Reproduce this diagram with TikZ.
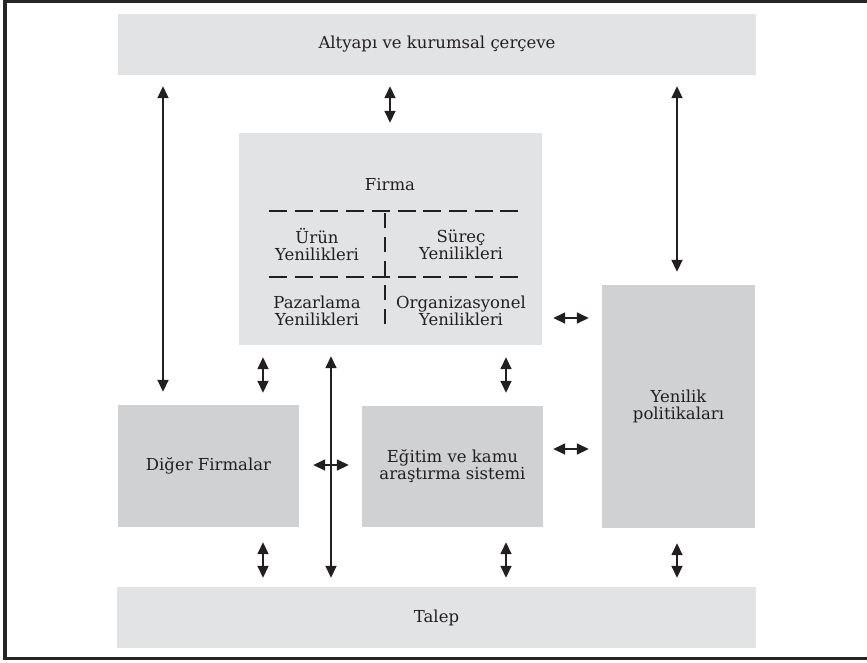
\documentclass[tikz,border=0pt]{standalone}
\usepackage{fontspec}
\setmainfont{DejaVu Serif}
\usetikzlibrary{arrows.meta}
\definecolor{lightbox}{HTML}{E2E3E5}
\definecolor{darkbox}{HTML}{D0D1D3}
\definecolor{ink}{HTML}{231F20}
\tikzset{
  boxlight/.style={fill=lightbox, draw=none, inner sep=0pt, rectangle},
  boxdark/.style={fill=darkbox, draw=none, inner sep=0pt, rectangle},
  lbl/.style={text=ink, align=center, inner sep=0pt, font=\fontsize{16.5}{17}\selectfont},
  dbl/.style={{Triangle[width=11pt,length=12pt]}-{Triangle[width=11pt,length=12pt]}, line width=1.6pt, draw=ink},
  divline/.style={draw=ink, line width=1.2pt},
}
\begin{document}
\begin{tikzpicture}[x=1pt,y=-1pt]
\useasboundingbox (0,0) rectangle (867,662);
% outer frame
\draw[line width=3.5pt, draw=black!85] (5,0.8) rectangle (880,658.5);

% boxes
\node[boxlight, minimum width=638pt, minimum height=61pt] (alt) at (437,44.5) {};
\node[boxlight, minimum width=639pt, minimum height=61pt] (talep) at (436.5,617.5) {};
\node[boxlight, minimum width=303pt, minimum height=212pt] (firma) at (390.5,239) {};
\node[boxdark, minimum width=181pt, minimum height=122pt] (diger) at (208.5,466) {};
\node[boxdark, minimum width=181pt, minimum height=121pt] (egitim) at (452.5,466.5) {};
\node[boxdark, minimum width=153pt, minimum height=243pt] (yenilik) at (678.5,406.5) {};

% texts
\node[lbl] (altT) at (alt) {Altyapı ve kurumsal çerçeve};
\node[lbl] (talepT) at (talep) {Talep};
\node[lbl] (firmaT) at (390,185) {Firma};
\node[lbl] (urun) at (317,245) {Ürün\\Yenilikleri};
\node[lbl] (surec) at (461,245) {Süreç\\Yenilikleri};
\node[lbl] (paz) at (317,311) {Pazarlama\\Yenilikleri};
\node[lbl] (org) at (461,311) {Organizasyonel\\Yenilikleri};
\node[lbl] (digerT) at (diger) {Diğer Firmalar};
\node[lbl] (egitimT) at (egitim) {Eğitim ve kamu\\araştırma sistemi};
\node[lbl] (yenilikT) at (yenilik) {Yenilik\\politikaları};

% dividers inside Firma
\coordinate (dl) at (269,0);
\coordinate (dr) at (519,0);
\coordinate (dv) at (385,0);
\coordinate (h1) at (0,211);
\coordinate (h2) at (0,277);
\coordinate (vb) at (0,332);
\draw[divline, dash pattern=on 18pt off 7.7pt] (h1 -| dl) -- (h1 -| dr);
\draw[divline, dash pattern=on 18pt off 7.7pt] (h2 -| dl) -- (h2 -| dr);
\draw[divline, dash pattern=on 15pt off 9pt] ([yshift=-2pt]h1 -| dv) -- (vb -| dv);

% column coordinates
\coordinate (cA) at (163,0);
\coordinate (cB) at (263,0);
\coordinate (cC) at (331,0);
\coordinate (cD) at (390,0);
\coordinate (cE) at (506,0);
\coordinate (cF) at (677,0);
\coordinate (rA) at (0,318);
\coordinate (rB) at (0,449);
\coordinate (rC) at (0,465);

% top arrows
\draw[dbl, shorten <=11pt, shorten >=13pt] (alt.south -| cA) -- (diger.north -| cA);
\draw[dbl, shorten <=11pt, shorten >=10pt] (alt.south -| cD) -- (firma.north -| cD);
\draw[dbl, shorten <=11pt, shorten >=13pt] (alt.south -| cF) -- (yenilik.north -| cF);

% middle arrows
\draw[dbl, shorten <=12pt, shorten >=12pt] (firma.south -| cB) -- (diger.north -| cB);
\draw[dbl, shorten <=12pt, shorten >=13pt] (firma.south -| cE) -- (egitim.north -| cE);
\draw[dbl, shorten <=11pt, shorten >=9pt] (firma.south -| cC) -- (talep.north -| cC);
\draw[dbl, shorten <=11pt, shorten >=13pt] (firma.east |- rA) -- (yenilik.west |- rA);
\draw[dbl, shorten <=10pt, shorten >=13pt] (egitim.east |- rB) -- (yenilik.west |- rB);
\draw[dbl, shorten <=14pt, shorten >=13pt] (diger.east |- rC) -- (egitim.west |- rC);

% bottom arrows
\draw[dbl, shorten <=15pt, shorten >=9pt] (diger.south -| cB) -- (talep.north -| cB);
\draw[dbl, shorten <=15pt, shorten >=9pt] (egitim.south -| cE) -- (talep.north -| cE);
\draw[dbl, shorten <=15pt, shorten >=9pt] (yenilik.south -| cF) -- (talep.north -| cF);
\end{tikzpicture}
\end{document}
